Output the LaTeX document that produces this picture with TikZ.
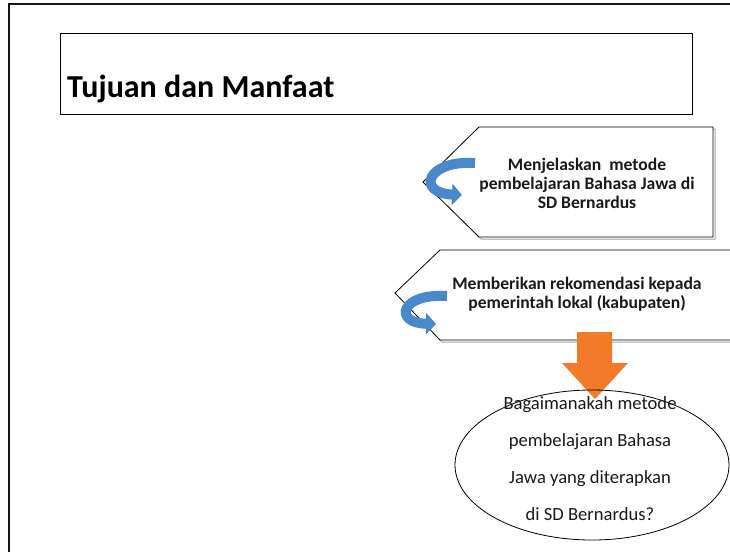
\documentclass[tikz,border=0pt]{standalone}
\usepackage{fontspec}
\setmainfont{Carlito}
\usetikzlibrary{arrows.meta,shapes.geometric}
\definecolor{frameblack}{RGB}{20,20,20}
\definecolor{curveblue}{RGB}{74,136,204}
\definecolor{arroworange}{RGB}{242,122,40}
\tikzset{
  outline/.style={draw=black, line width=0.8pt},
  pentshadow/.style={draw=black!35, line width=1pt},
  pentbox/.style={draw=black, line width=0.8pt, fill=white},
  pentlabel/.style={font=\bfseries\fontsize{17.6}{19}\selectfont, align=center, text=black!90},
  ovallabel/.style={font=\fontsize{18.6}{37}\selectfont, align=center, text=black!90},
  turnarrow/.style={draw=curveblue, line width=10pt, -{Triangle[length=10pt,width=21pt]}},
}
\begin{document}
\begin{tikzpicture}[x=1pt,y=-1pt]
\useasboundingbox (0,0) rectangle (730,551);
\clip (0,0) rectangle (730,551);
\fill[white] (0,0) rectangle (730,551);
% outer slide frame
\coordinate (fbl) at (9,560);
\coordinate (ftl) at (9,4);
\coordinate (ftr) at (740,4);
\draw[frameblack, line width=1.8pt] (fbl) -- (ftl) -- (ftr);
% title box
\node[outline, minimum width=632pt, minimum height=81pt, anchor=north west, inner sep=0pt] (titlebox) at (60,33) {};
\node[font=\bfseries\fontsize{32}{36}\selectfont, anchor=base west, inner sep=0pt] (title) at (67,97) {Tujuan dan Manfaat};
% pentagon 1
\draw[pentshadow] (426,184) -- (481,129) -- (715,129) -- (715,239) -- (481,239) -- cycle;
\draw[pentbox] (423,182) -- (479,127) -- (713,127) -- (713,237) -- (479,237) -- cycle;
\node[pentlabel] (p1) at (587,183) {Menjelaskan\ \ metode\\pembelajaran Bahasa Jawa di\\SD Bernardus};
\coordinate (c1s) at (475,163);
\coordinate (c1e) at (462,195);
\draw[turnarrow] (c1s) .. controls (426,160) and (416,193) .. (c1e);
% pentagon 2
\draw[pentshadow] (398,295) -- (442,252) -- (740,252) -- (740,342) -- (442,342) -- cycle;
\draw[pentbox] (395,293) -- (440,250) -- (740,250) -- (740,340) -- (440,340) -- cycle;
\node[pentlabel] (p2) at (577,294) {Memberikan rekomendasi kepada\\pemerintah lokal (kabupaten)};
\coordinate (c2s) at (447,296);
\coordinate (c2e) at (436,324);
\draw[turnarrow] (c2s) .. controls (400,293) and (393,323) .. (c2e);
% orange arrow from recommendations to the question
\fill[arroworange] (577,332) -- (612,332) -- (612,363) -- (628,363) -- (595,399) -- (562,363) -- (577,363) -- cycle;
% question ellipse
\node[ellipse, draw=black, line width=0.8pt, minimum width=274pt, minimum height=150pt, inner sep=0pt] (oval) at (592,465) {};
\node[ovallabel] (q) at (590,459) {Bagaimanakah metode\\pembelajaran Bahasa\\Jawa yang diterapkan\\di SD Bernardus?};
\end{tikzpicture}
\end{document}
